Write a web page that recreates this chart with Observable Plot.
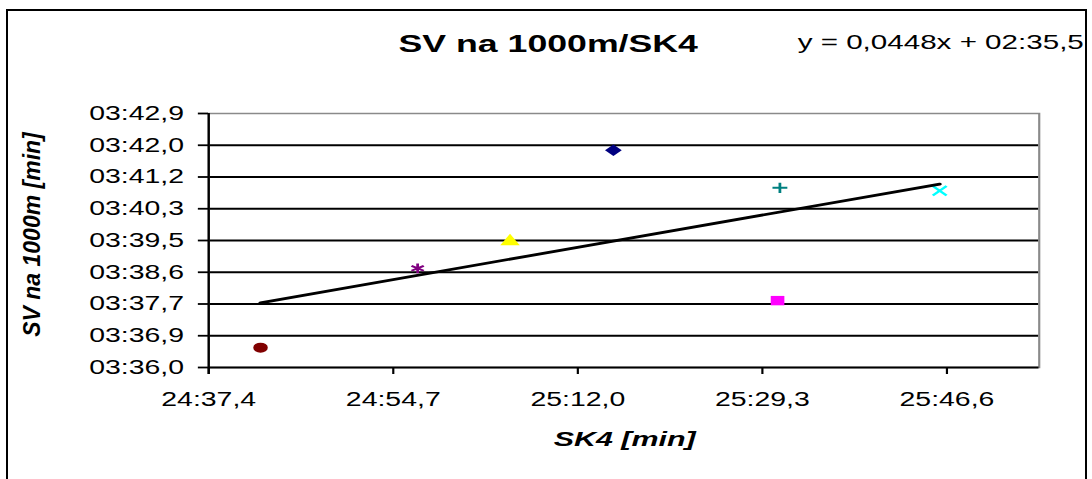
<!DOCTYPE html>
<html><head><meta charset="utf-8">
<script src="https://cdn.jsdelivr.net/npm/d3@7"></script>
<script src="https://cdn.jsdelivr.net/npm/@observablehq/plot@0.6"></script>
<style>
body{margin:0;background:#fff;}
#wrap{position:relative;width:1092px;height:479px;overflow:hidden;background:#fff;}
#box{position:absolute;left:6px;top:9px;width:1077px;height:520px;border:2.5px solid #000;}
#chart{position:absolute;left:0;top:0;}
</style></head><body>
<div id="wrap"><div id="box"></div><div id="chart"></div></div>
<script>
const title = "SV na 1000m/SK4";
const equation = "y = 0,0448x + 02:35,5";
const xLabel = "SK4 [min]";
const yLabel = "SV na 1000m [min]";
// values in seconds (shown as mm:ss,d)
const sk4 = [1482.29, 1497.00, 1505.65, 1515.33, 1530.92, 1530.70, 1545.88];
const sv  = [216.54, 218.70, 219.43, 221.91, 220.89, 217.82, 220.81];
const xTicks = [1477.44, 1494.72, 1512.00, 1529.28, 1546.56];
const yTicks = [216.000, 216.864, 217.728, 218.592, 219.456, 220.320, 221.184, 222.048, 222.912];
const xDomain = [1477.44, 1555.2];
const yDomain = [216.0, 222.912];

// marker styles
const markerSymbols = ["circle","asterisk","triangle","diamond2","plus","square","times"];
const markerColors  = ["#800000","#800080","#ffff00","#000080","#008080","#ff00ff","#00ffff"];
const markerFilled  = [true,false,true,true,false,true,false];
const markerR       = [5,4.6,5,5.2,3.4,5.3,4.4];

const W = 753, H = 479, K = 1092 / W;

function fmt(s) {
  const t = Math.round(s * 10) / 10;
  const m = Math.floor(t / 60);
  const sec = t - m * 60;
  return String(m).padStart(2, "0") + ":" + sec.toFixed(1).padStart(4, "0").replace(".", ",");
}

const pts = sk4.map((x, i) => ({x, y: sv[i], i}));
const dotMarks = pts.map(d => {
  const i = d.i;
  return markerFilled[i]
    ? Plot.dot([d], {x: "x", y: "y", symbol: markerSymbols[i], r: markerR[i], fill: markerColors[i], stroke: "none"})
    : Plot.dot([d], {x: "x", y: "y", symbol: markerSymbols[i], r: markerR[i], fill: "none", stroke: markerColors[i], strokeWidth: 1.9});
});

const marginLeft = 208 / K, marginRight = (1092 - 1038.5) / K;
const frameCx = (208 + 1038.5) / 2;

const svg = Plot.plot({
  width: W, height: H,
  marginLeft, marginRight, marginTop: 113, marginBottom: 112,
  style: {fontFamily: "'Liberation Sans', Arial, sans-serif", background: "transparent", color: "#000"},
  x: {domain: xDomain, label: null},
  y: {domain: yDomain, label: null},
  marks: [
    Plot.ruleY(yTicks.slice(1, -1), {stroke: "#000", strokeWidth: 1.8}),
    Plot.frame({stroke: "#8a8a8a", strokeWidth: 1.5}),
    Plot.ruleY([yDomain[0]], {stroke: "#000", strokeWidth: 2.2}),
    Plot.ruleX([xDomain[0]], {stroke: "#000", strokeWidth: 1.6, insetBottom: -7}),
    Plot.axisY(yTicks, {tickFormat: fmt, tickSize: 7, tickPadding: 10, fontSize: 19.6, strokeWidth: 1.8, label: null}),
    Plot.axisX(xTicks, {tickFormat: fmt, tickSize: 7, tickPadding: 18, fontSize: 19.6, strokeWidth: 1.5, label: null}),
    ...dotMarks,
    Plot.linearRegressionY(pts, {x: "x", y: "y", ci: 0, stroke: "#000", strokeWidth: 2.8}),
    Plot.text([title], {text: d => d, frameAnchor: "top", lineAnchor: "middle", dx: (547.5 - frameCx) / K, dy: 44 - 113, fontSize: 24.6, fontWeight: "bold", textAnchor: "middle"}),
    Plot.text([equation], {text: d => d, frameAnchor: "top", lineAnchor: "middle", dx: (940 - frameCx) / K, dy: 42 - 113, fontSize: 20.4, textAnchor: "middle"}),
    Plot.text([xLabel], {text: d => d, frameAnchor: "bottom", lineAnchor: "middle", dx: (624 - frameCx) / K, dy: 438.5 - 367, fontSize: 21, fontWeight: "bold", fontStyle: "italic", textAnchor: "middle"}),
    Plot.text([yLabel], {text: d => d, frameAnchor: "left", lineAnchor: "middle", rotate: -90, dx: 32 / K - marginLeft, dy: 234 - 240, fontSize: 23, fontWeight: "bold", fontStyle: "italic", textAnchor: "middle"})
  ]
});

// stretch horizontally like the original picture
svg.setAttribute("viewBox", `0 0 ${W} ${H}`);
svg.setAttribute("width", 1092);
svg.setAttribute("height", H);
svg.setAttribute("preserveAspectRatio", "none");
svg.style.width = "1092px";
svg.style.height = H + "px";
svg.style.maxWidth = "none";

// the rotated y label is not stretched in the original
svg.querySelectorAll("text").forEach(t => {
  if (t.textContent === yLabel) {
    const tr = t.getAttribute("transform") || "";
    t.setAttribute("transform", tr + ` scale(1,${1 / K})`);
  }
});

document.getElementById("chart").appendChild(svg);
</script>
</body></html>
